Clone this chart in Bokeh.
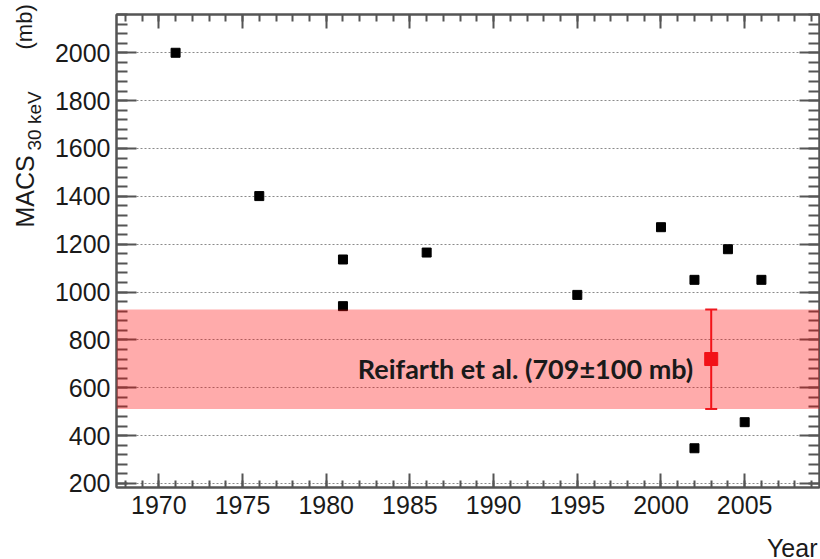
import math
from bokeh.plotting import figure
from bokeh.layouts import row, column
from bokeh.models import (Range1d, SingleIntervalTicker, LinearAxis, BoxAnnotation,
                          Whisker, TeeHead, Label, ColumnDataSource, CustomJSTickFormatter)
from bokeh.embed import file_html
from bokeh.resources import INLINE

# ---- data ----
years = [1971, 1976, 1981, 1981, 1986, 1995, 2000, 2002, 2002, 2004, 2005, 2006]
macs = [2000, 1401, 1136, 941, 1165, 988, 1271, 1051, 347, 1179, 456, 1051]

ref_year = [2003]
ref_val = [720]
ref_lo = [511]
ref_hi = [927]
ref_text = "Reifarth et al. (709\u00b1100 mb)"

x_label = "Year"
y_label_main = "MACS"
y_label_sub = "30 keV"
y_label_unit = "(mb)"

x_lim = (1967.47, 2009.47)
y_lim = (183, 2160)

AX = "#555555"
TXT = "#1a1a1a"
RED = "#EC1C24"
FONT = "Liberation Sans"
STRIP_W = 45
H = 559
YEAR_H = 28
MAIN_W = 820 - STRIP_W
MAIN_H = H - YEAR_H

p = figure(width=MAIN_W, height=MAIN_H, output_backend="svg", toolbar_location=None,
           x_range=Range1d(*x_lim), y_range=Range1d(*y_lim),
           min_border_left=116 - STRIP_W, min_border_right=1, min_border_top=14,
           min_border_bottom=MAIN_H - 487, background_fill_color="white",
           border_fill_color="white")

p.outline_line_color = AX
p.outline_line_width = 2

xt = SingleIntervalTicker(interval=5, num_minor_ticks=5)
yt = SingleIntervalTicker(interval=200, num_minor_ticks=5)
blank = CustomJSTickFormatter(code="return ''")

bottom_ax = p.xaxis[0]
left_ax = p.yaxis[0]


def style_common(ax, labels):
    ax.major_tick_out = 0
    ax.minor_tick_out = 0
    ax.major_tick_line_color = AX
    ax.minor_tick_line_color = AX
    ax.major_tick_line_width = 2
    ax.minor_tick_line_width = 2
    ax.axis_line_color = AX
    ax.axis_line_width = 2
    if labels:
        ax.major_label_text_font = FONT
        ax.major_label_text_font_size = "25px"
        ax.major_label_text_color = TXT
    else:
        ax.formatter = blank
        ax.major_label_standoff = 0


def style_x(ax, labels=True):
    ax.ticker = xt
    ax.major_tick_in = 14
    ax.minor_tick_in = 7
    style_common(ax, labels)
    if labels:
        ax.major_label_standoff = 8


def style_y(ax, labels=True):
    ax.ticker = yt
    ax.major_tick_in = 20
    ax.minor_tick_in = 11
    style_common(ax, labels)
    if labels:
        ax.major_label_standoff = 6


style_x(bottom_ax)
style_y(left_ax)
top_ax = LinearAxis()
style_x(top_ax, labels=False)
right_ax = LinearAxis()
style_y(right_ax, labels=False)
p.add_layout(top_ax, "above")
p.add_layout(right_ax, "right")

p.xgrid.visible = False
p.ygrid.ticker = yt
p.ygrid.grid_line_color = "#8a8a8a"
p.ygrid.grid_line_dash = "2 2"
p.ygrid.grid_line_width = 1

# band
band = BoxAnnotation(bottom=ref_lo[0], top=ref_hi[0], fill_color="red",
                     fill_alpha=0.33, line_color=None)
p.add_layout(band)

# data points
src = ColumnDataSource(dict(x=years, y=macs))
p.scatter("x", "y", source=src, marker="square", size=9, color="black")

# reference point with error bar
rsrc = ColumnDataSource(dict(x=ref_year, y=ref_val, lo=ref_lo, hi=ref_hi))
wh = Whisker(base="x", lower="lo", upper="hi", source=rsrc, dimension="height",
             line_color=RED, line_width=2,
             upper_head=TeeHead(size=12, line_color=RED, line_width=2),
             lower_head=TeeHead(size=12, line_color=RED, line_width=2))
p.add_layout(wh)
p.scatter("x", "y", source=rsrc, marker="square", size=13, color=RED)

p.add_layout(Label(x=ref_year[0], y=ref_val[0], text=ref_text, text_font="Lato",
                   text_font_style="bold", text_font_size="27px", text_color=TXT,
                   text_align="right", text_baseline="alphabetic",
                   x_offset=-18, y_offset=-9))


def strip(w, h):
    f = figure(width=w, height=h, output_backend="svg", toolbar_location=None,
               x_range=Range1d(0, w), y_range=Range1d(0, h),
               x_axis_location=None, y_axis_location=None,
               min_border=0, outline_line_color=None,
               background_fill_color="white", border_fill_color="white")
    f.grid.visible = False
    return f


# strip on the left holding the rotated y-axis title
s = strip(STRIP_W, H)
rot = math.pi / 2
s.add_layout(Label(x=24, y=H - 227, text=y_label_main,
                   text_font=FONT, text_font_size="25px", text_color=TXT, angle=rot,
                   text_align="left", text_baseline="middle"))
s.add_layout(Label(x=34, y=H - 150, text=y_label_sub,
                   text_font=FONT, text_font_size="19px", text_color=TXT, angle=rot,
                   text_align="left", text_baseline="middle"))
s.add_layout(Label(x=24, y=H - 49, text=y_label_unit,
                   text_font=FONT, text_font_size="22px", text_color=TXT, angle=rot,
                   text_align="left", text_baseline="middle"))

# strip below holding the x-axis title
b = strip(MAIN_W, YEAR_H)
b.add_layout(Label(x=MAIN_W - 3, y=12, text=x_label, text_font=FONT,
                   text_font_size="25px", text_color=TXT,
                   text_align="right", text_baseline="middle"))

layout = row(column(s, spacing=0), column(p, row(b, spacing=0), spacing=0), spacing=0)
open("out.html", "w").write(file_html(layout, INLINE))
